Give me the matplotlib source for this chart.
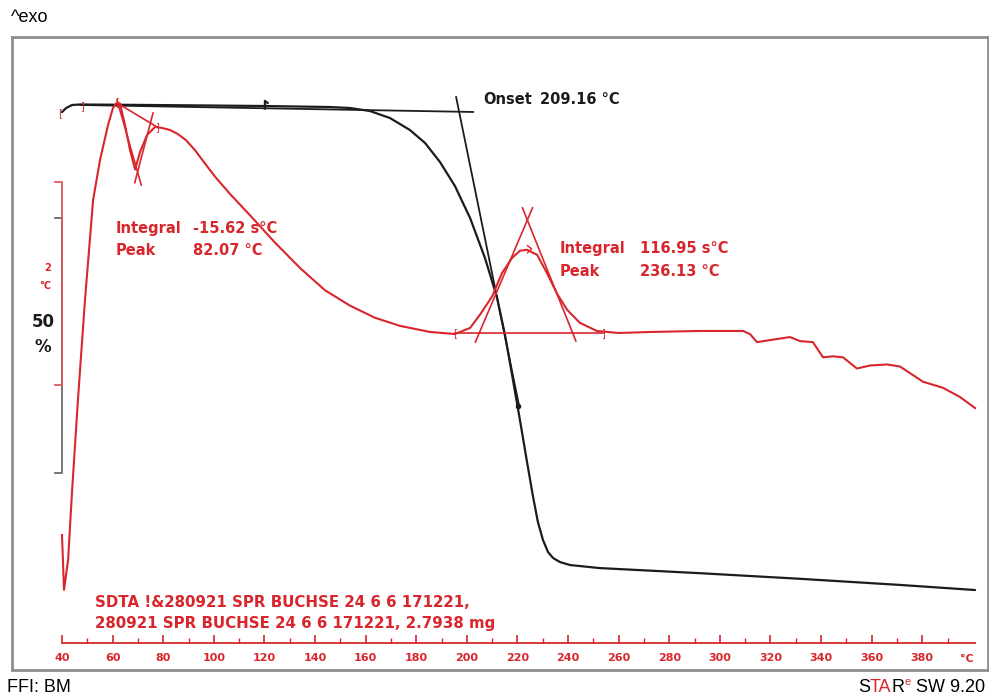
import matplotlib.pyplot as plt
import numpy as np

# TGA curve: temperature (°C) and mass (%)
tga_temp = [40.0, 41.6, 44.0, 47.1, 74.8, 120.2, 145.9, 153.8, 161.7, 169.6, 177.5,
            183.5, 189.4, 195.3, 201.3, 207.2, 211.9, 215.1, 217.9, 221.0, 223.8,
            226.2, 228.1, 230.1, 232.1, 234.1, 236.8, 240.8, 252.6, 268.5, 292.2,
            331.7, 371.2, 400.9]
tga_mass = [98.6, 99.4, 100.0, 100.1, 100.0, 99.8, 99.6, 99.41, 98.82, 97.45, 95.1,
            92.55, 88.82, 84.12, 77.84, 69.96, 62.35, 54.9, 47.06, 38.24, 30.0,
            23.14, 18.24, 14.71, 12.35, 11.18, 10.39, 9.8, 9.2, 8.8, 8.2,
            7.1, 5.9, 4.9]

# SDTA curve: temperature (°C) and temperature difference (°C)
dta_temp = [40.0, 40.8, 42.4, 44.0, 46.3, 49.1, 52.3, 55.0, 58.2, 60.2, 61.7,
            62.9, 64.9, 66.9, 68.9, 70.8, 73.6, 76.8, 79.5, 82.7, 85.8, 89.0,
            92.6, 96.5, 100.5, 106.4, 114.3, 124.2, 134.1, 144.0, 153.8, 163.7,
            173.6, 185.5, 195.3, 201.3, 205.2, 210.0, 213.9, 217.9, 221.0, 223.8,
            227.8, 231.7, 235.6, 239.6, 244.7, 251.4, 260.0, 272.4, 292.2, 309.2,
            311.9, 314.7, 319.8, 327.7, 331.7, 336.8, 340.8, 344.7, 348.7, 354.2,
            359.4, 366.1, 371.2, 380.3, 388.2, 394.9, 400.9]
dta_val = [-1.99, -2.53, -2.24, -1.55, -0.66, 0.33, 1.31, 1.70, 2.05, 2.22, 2.27,
           2.26, 2.05, 1.80, 1.61, 1.78, 1.95, 2.03, 2.02, 2.00, 1.96, 1.90,
           1.80, 1.67, 1.54, 1.37, 1.16, 0.89, 0.64, 0.42, 0.27, 0.15,
           0.07, 0.01, -0.01, 0.05, 0.18, 0.36, 0.59, 0.74, 0.81, 0.82,
           0.77, 0.59, 0.39, 0.23, 0.10, 0.02, 0.00, 0.01, 0.02, 0.02,
           -0.01, -0.09, -0.07, -0.04, -0.08, -0.09, -0.24, -0.23, -0.24, -0.35,
           -0.32, -0.31, -0.33, -0.48, -0.54, -0.63, -0.74]

# evaluation results (sample temperature), axis shows reference temperature
onset_T = 209.16
dip_integral, dip_peak = -15.62, 82.07
exo_integral, exo_peak = 116.95, 236.13
t_shift = 12.2

x_ticks = list(range(40, 400, 20))
x_minor = list(range(50, 400, 20))

RED = '#d8262c'
BLACK = '#1c1c1c'

fig = plt.figure(figsize=(9.89, 6.98), dpi=100)
W, H = 989, 698

ax = fig.add_axes([12 / W, 1 - 670 / H, 976 / W, 633 / H])
ax.set_xlim(20.24, 406.0)
ax.set_ylim(-10.78, 113.33)
ax.set_xticks([])
ax.set_yticks([])
for s in ax.spines.values():
    s.set_color('#8e8e8e')
    s.set_linewidth(2)

ax2 = ax.twinx()
ax2.set_ylim(-3.320, 2.916)
ax2.set_yticks([])
for s in ax2.spines.values():
    s.set_visible(False)

# TGA with onset construction
ax.plot(tga_temp, tga_mass, color=BLACK, lw=1.6, solid_capstyle='round')
on_x = onset_T - t_shift
base = np.array([[47.1, 100.0], [202.5, 98.63]])
ax.plot(base[:, 0], base[:, 1], color=BLACK, lw=1.3)
on_y = np.interp(on_x, base[:, 0], base[:, 1])
p_low = np.array([220.6, 41.2])
d = p_low - np.array([on_x, on_y])
ax.plot([on_x - 0.05 * d[0], p_low[0]], [on_y - 0.05 * d[1], p_low[1]],
        color=BLACK, lw=1.3)
ax.plot([120.2, 120.2, 121.3], [99.3, 100.8, 100.4], color=BLACK, lw=1.6)
ax.plot([220.3], [41.0], marker='o', ms=3, color=BLACK)
ax.text(206.4, 101.0, 'Onset', color=BLACK, fontsize=10.5, fontweight='bold', va='center')
ax.text(229.0, 101.0, '%.2f °C' % onset_T, color=BLACK, fontsize=10.5,
        fontweight='bold', va='center')

# SDTA curve
ax2.plot(dta_temp, dta_val, color=RED, lw=1.5)


def cross_lines(axis, p, ends, ext):
    for e in ends:
        e = np.array(e)
        v = e - p
        axis.plot([p[0] - ext * v[0], e[0]], [p[1] - ext * v[1], e[1]],
                  color=RED, lw=1.2)


# endothermic dip evaluation
dip = np.array([dip_peak - t_shift, 1.586])
cross_lines(ax2, dip, [[61.74, 2.296], [75.97, 2.167]], 0.18)
ax2.plot([61.74, 77.55], [2.266, 2.03], color=RED, lw=1.2)

# exothermic peak evaluation
pk = np.array([exo_peak - t_shift, 1.113])
cross_lines(ax2, pk, [[203.4, -0.089], [243.1, -0.079]], 0.1)
ax2.plot([195.3, 253.8], [0.0, 0.0], color=RED, lw=1.2)
ax2.plot([224.0, 225.6, 224.0], [0.86, 0.83, 0.79], color=RED, lw=1.0)

for t, v, ch in [(195.3, 0.0, '['), (253.8, 0.0, ']'), (61.6, 2.27, '['),
                 (77.4, 2.03, ']'), (39.2, 2.17, '['), (47.9, 2.24, ']')]:
    ax2.text(t, v, ch, color=RED, fontsize=7, ha='center', va='center')

lab = dict(color=RED, fontsize=10.5, fontweight='bold', va='center')
ax2.text(61.0, 1.03, 'Integral', **lab)
ax2.text(61.0, 0.81, 'Peak', **lab)
ax2.text(91.8, 1.03, '%.2f s°C' % dip_integral, **lab)
ax2.text(91.8, 0.81, '%.2f °C' % dip_peak, **lab)
ax2.text(236.8, 0.83, 'Integral', **lab)
ax2.text(236.8, 0.61, 'Peak', **lab)
ax2.text(268.3, 0.83, '%.2f s°C' % exo_integral, **lab)
ax2.text(268.3, 0.61, '%.2f °C' % exo_peak, **lab)

ax2.text(53.0, -2.76, 'SDTA !&280921 SPR BUCHSE 24 6 6 171221,\n'
         '280921 SPR BUCHSE 24 6 6 171221, 2.7938 mg', linespacing=1.45,
         color=RED, fontsize=10.8, fontweight='bold', va='center')

# scale bars: 50 % mass and 2 °C
ax.plot([37.2, 40.0, 40.0, 37.2], [77.84, 77.84, 27.84, 27.84], color='#6a6a6a', lw=1.3)
ax2.plot([37.2, 40.0, 40.0, 37.2], [1.488, 1.488, -0.512, -0.512], color='#e0575b', lw=1.3)
ax2.text(34.4, 0.64, '2', color=RED, fontsize=7, fontweight='bold', ha='center', va='center')
ax2.text(33.3, 0.46, '°C', color=RED, fontsize=7, fontweight='bold', ha='center', va='center')
ax.text(32.5, 57.5, '50', color=BLACK, fontsize=12, fontweight='bold', ha='center', va='center')
ax.text(32.5, 52.6, '%', color=BLACK, fontsize=12, fontweight='bold', ha='center', va='center')

# temperature axis
xa = fig.add_axes([62 / W, 1 - 643 / H, 913 / W, 0.0001])
xa.set_xlim(40, 40 + 913 / 2.53)
xa.set_yticks([])
for k in ['top', 'left', 'right']:
    xa.spines[k].set_visible(False)
xa.spines['bottom'].set_color(RED)
xa.spines['bottom'].set_linewidth(1.3)
xa.patch.set_alpha(0)
xa.set_xticks(x_ticks)
xa.set_xticklabels([str(t) for t in x_ticks])
xa.set_xticks(x_minor, minor=True)
xa.tick_params(axis='x', which='major', direction='in', length=6, width=1.2,
               color=RED, labelcolor=RED, labelsize=8, pad=7)
xa.tick_params(axis='x', which='minor', direction='in', length=3.5, width=1.0, color=RED)
for lb in xa.get_xticklabels():
    lb.set_fontweight('bold')
xa.annotate('°C', xy=(397.7, 0), xycoords=('data', 'axes fraction'),
            xytext=(0, -8), textcoords='offset points', color=RED, fontsize=8,
            fontweight='bold', ha='center', va='top')

foot = dict(fontsize=13, family='Liberation Sans', va='center')
fig.text(11 / W, 1 - 18 / H, '^exo', **foot)
fig.text(7 / W, 1 - 688 / H, 'FFI: BM', **foot)

# software tag, laid out right to left
renderer = fig.canvas.get_renderer()
x_right = 985
yb = 1 - 688 / H
for txt, col, size, dy in [('SW 9.20', 'black', 13, 0), (' ', 'black', 13, 0),
                           ('e', RED, 8, 6), ('R', 'black', 13, 0),
                           ('TA', RED, 13, 0), ('S', 'black', 13, 0)]:
    t = fig.text(x_right / W, yb + dy / H, txt, fontsize=size, family='Liberation Sans',
                 va='center', ha='right', color=col)
    x_right -= t.get_window_extent(renderer).width

fig.savefig('out.png', dpi=100)
